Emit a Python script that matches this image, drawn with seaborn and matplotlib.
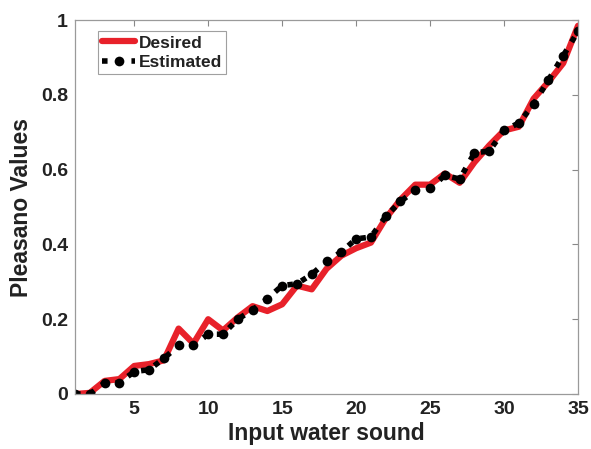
import matplotlib
matplotlib.use("Agg")
import matplotlib.pyplot as plt
import seaborn as sns
import pandas as pd
import numpy as np

x_vals = list(range(1, 36))
desired = [0.0, 0.003, 0.035, 0.04, 0.075, 0.08, 0.09, 0.175, 0.135, 0.2,
           0.17, 0.205, 0.235, 0.222, 0.24, 0.29, 0.28, 0.335, 0.37, 0.39,
           0.405, 0.47, 0.52, 0.56, 0.56, 0.59, 0.565, 0.62, 0.665, 0.705,
           0.715, 0.79, 0.835, 0.885, 0.985]
estimated = [0.0, 0.0, 0.03, 0.03, 0.06, 0.065, 0.095, 0.13, 0.13, 0.16,
             0.16, 0.2, 0.225, 0.255, 0.29, 0.295, 0.32, 0.355, 0.38, 0.415,
             0.42, 0.475, 0.515, 0.545, 0.55, 0.585, 0.575, 0.645, 0.65, 0.705,
             0.725, 0.775, 0.84, 0.905, 0.97]
x_ticks = [5, 10, 15, 20, 25, 30, 35]
y_ticks = [0, 0.2, 0.4, 0.6, 0.8, 1.0]
y_tick_labels = ["0", "0.2", "0.4", "0.6", "0.8", "1"]

sns.set_style("white")
plt.rcParams['font.family'] = ['Liberation Sans', 'DejaVu Sans']
plt.rcParams['font.weight'] = 'bold'

df = pd.DataFrame({"x": x_vals, "Desired": desired, "Estimated": estimated})

fig = plt.figure(figsize=(5.91, 4.49), dpi=100)
ax = fig.add_axes([0.127, 0.1225, 0.851, 0.8325])

sns.lineplot(data=df, x="x", y="Desired", ax=ax, color="#e8212a", linewidth=4.5,
             label="Desired")
sns.lineplot(data=df, x="x", y="Estimated", ax=ax, color="black", linewidth=4,
             linestyle=":", marker="o", markersize=7, markeredgewidth=0,
             label="Estimated")

ax.set_xlim(1, 35)
ax.set_ylim(0, 1)
ax.set_xticks(x_ticks)
ax.set_yticks(y_ticks)
ax.set_yticklabels(y_tick_labels)
for lbl in ax.get_xticklabels() + ax.get_yticklabels():
    lbl.set_fontweight('bold')
    lbl.set_fontsize(14)
    lbl.set_color('#222222')

ax.tick_params(direction='in', length=4, width=0.8, color='#888888',
               top=True, right=True, pad=5)
for s in ax.spines.values():
    s.set_color('#9a9a9a')
    s.set_linewidth(0.9)
    s.set_visible(True)

ax.set_xlabel("Input water sound", fontsize=16.5, fontweight='bold',
              color='#222222', labelpad=3)
ax.set_ylabel("Pleasano Values", fontsize=16.5, fontweight='bold',
              color='#222222', labelpad=6)

leg = ax.legend(loc='upper left', bbox_to_anchor=(0.035, 0.985), fontsize=12.5,
                frameon=True, fancybox=False, edgecolor='#888888',
                handlelength=1.9, borderpad=0.25, labelspacing=0.25,
                handletextpad=0.2, borderaxespad=0.3)
leg.get_frame().set_linewidth(0.8)
for t in leg.get_texts():
    t.set_fontweight('bold')
    t.set_color('#222222')

fig.savefig("out.png", dpi=100)
